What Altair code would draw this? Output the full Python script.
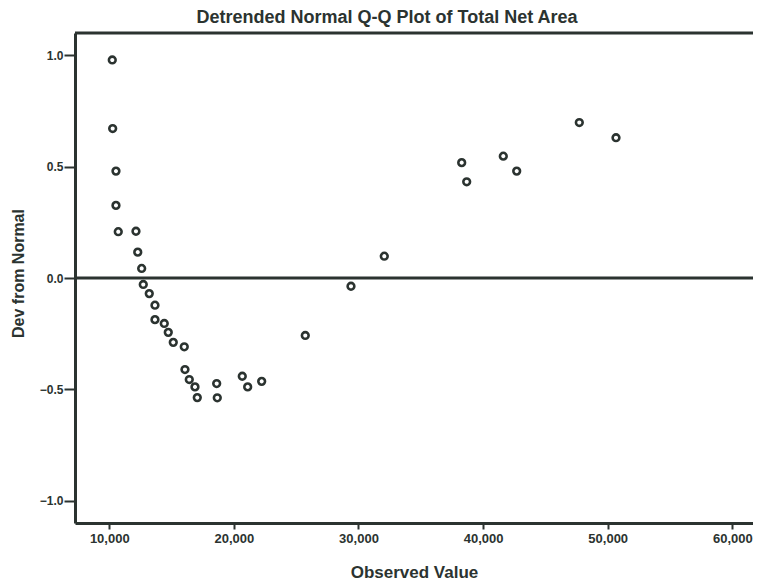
import altair as alt
import pandas as pd

observed = [10241, 10273, 10538, 10538, 10722, 12143, 12286, 12600, 12729, 13210,
            13668, 13668, 14414, 14735, 15136, 16019, 16075, 16421, 16878, 17063,
            18620, 18668, 20674, 21108, 22231, 25730, 29398, 32071, 38283, 38684,
            41621, 42697, 47721, 50666]
dev_from_normal = [0.979, 0.671, 0.480, 0.326, 0.208, 0.210, 0.116, 0.043, -0.029, -0.070,
                   -0.122, -0.187, -0.204, -0.244, -0.289, -0.309, -0.411, -0.456, -0.489, -0.537,
                   -0.474, -0.538, -0.441, -0.489, -0.464, -0.258, -0.037, 0.098, 0.518, 0.432,
                   0.547, 0.480, 0.698, 0.630]
x_ticks = [10000, 20000, 30000, 40000, 50000, 60000]
y_ticks = [-1.0, -0.5, 0.0, 0.5, 1.0]
x_domain = [7250, 61660]
y_domain = [-1.1, 1.1]
reference_line = [0.0]

INK = "#2b3330"
FONT = "Liberation Sans"

df = pd.DataFrame({"observed": observed, "dev": dev_from_normal})
ref = pd.DataFrame({"dev": reference_line})

x_enc = alt.X("observed:Q",
              scale=alt.Scale(domain=x_domain, nice=False, zero=False),
              axis=alt.Axis(values=x_ticks, format=",d", title="Observed Value",
                            grid=False, domain=True, domainColor=INK, domainWidth=3,
                            ticks=True, tickColor=INK, tickWidth=2, tickSize=6,
                            labelPadding=3, labelFont=FONT, labelFontSize=13,
                            labelFontWeight="bold", labelColor=INK,
                            titleFont=FONT, titleFontSize=17, titleFontWeight="bold",
                            titleColor=INK, titleY=49, titleBaseline="middle"))
y_enc = alt.Y("dev:Q",
              scale=alt.Scale(domain=y_domain, nice=False, zero=False),
              axis=alt.Axis(values=y_ticks, format=".1f", title="Dev from Normal",
                            grid=False, domain=True, domainColor=INK, domainWidth=3,
                            ticks=True, tickColor=INK, tickWidth=2, tickSize=11,
                            labelPadding=1, labelFont=FONT, labelFontSize=12,
                            labelFontWeight="bold", labelColor=INK,
                            titleFont=FONT, titleFontSize=16, titleFontWeight="bold",
                            titleColor=INK, titleAngle=270, titleX=-57, titleY=240,
                            titleAlign="center", titleBaseline="middle"))

halo = alt.Chart(df).mark_point(shape="square", filled=True, color="white",
                                size=170, opacity=1).encode(x=x_enc, y=y_enc)

zero_rule = alt.Chart(ref).mark_rule(color=INK, strokeWidth=3).encode(y="dev:Q")

top_frame = alt.Chart(ref).mark_rule(color=INK, strokeWidth=3).encode(
    x=alt.value(0), x2=alt.value(678), y=alt.value(0))

points = alt.Chart(df).mark_point(shape="circle", filled=True, fill="white",
                                  stroke=INK, strokeWidth=2.6, size=45,
                                  opacity=1).encode(x=x_enc, y=y_enc)

chart = alt.layer(halo, zero_rule, top_frame, points).properties(
    width=678, height=490,
    autosize=alt.AutoSizeParams(type="none"),
    padding={"left": 67, "top": 25, "right": 0, "bottom": 60},
    title=alt.TitleParams("Detrended Normal Q-Q Plot of Total Net Area",
                          font=FONT, fontSize=18, fontWeight="bold", color=INK,
                          anchor="middle", dx=-27, offset=5),
).configure_view(fill="#eaecf1", stroke=None).configure(background="white")

chart.save("out.html", embed_options={"renderer": "svg", "actions": False})
